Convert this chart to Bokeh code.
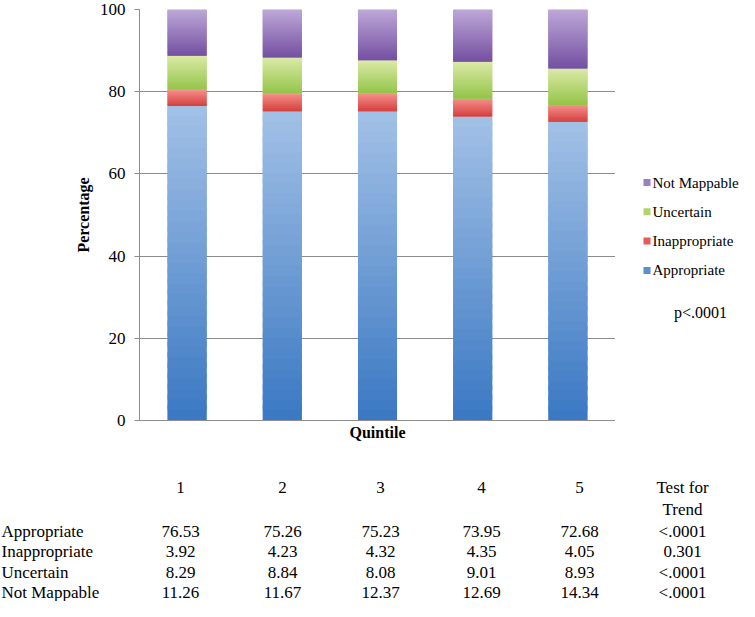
from bokeh.plotting import figure
from bokeh.models import Range1d, FixedTicker, ColumnDataSource
from bokeh.layouts import column, row
from bokeh.embed import file_html
from bokeh.resources import INLINE
from bokeh.core.properties import value

# ---------------- data ----------------
quintiles = ["1", "2", "3", "4", "5"]
series_names = ["Appropriate", "Inappropriate", "Uncertain", "Not Mappable"]
appropriate = [76.53, 75.26, 75.23, 73.95, 72.68]
inappropriate = [3.92, 4.23, 4.32, 4.35, 4.05]
uncertain = [8.29, 8.84, 8.08, 9.01, 8.93]
not_mappable = [11.26, 11.67, 12.37, 12.69, 14.34]
trend_p = ["<.0001", "0.301", "<.0001", "<.0001"]
p_overall = "p<.0001"
y_ticks = [0, 20, 40, 60, 80, 100]
trend_header = ["Test for", "Trend"]

series_values = [appropriate, inappropriate, uncertain, not_mappable]
# (bottom colour, top colour, legend colour)
series_colors = [
    ("#3a78c3", "#a3c1e6", "#5b8ed0"),
    ("#d33d39", "#f6938f", "#e45b59"),
    ("#92c447", "#dceaa8", "#b4d36c"),
    ("#7450a1", "#bda8d8", "#9a7fc5"),
]

FONT = "Liberation Serif"
GRAY = "#8c8c8c"

# layout geometry (pixels)
FRAME_L, FRAME_R, FRAME_T, FRAME_B = 139, 615, 9, 420
CHART_H = 446
TOTAL_W, TOTAL_H = 739, 601


def hex2rgb(h):
    h = h.lstrip("#")
    return tuple(int(h[i:i + 2], 16) for i in (0, 2, 4))


def mix(c1, c2, t):
    a, b = hex2rgb(c1), hex2rgb(c2)
    return "#%02x%02x%02x" % tuple(int(round(a[k] + (b[k] - a[k]) * t)) for k in range(3))


# ---------------- chart ----------------
xpos = [i + 1 for i in range(len(quintiles))]
chart = figure(x_range=Range1d(0.5, len(quintiles) + 0.5), y_range=Range1d(0, 100),
               width=FRAME_R, height=CHART_H, output_backend="svg", toolbar_location=None,
               min_border_left=FRAME_L, min_border_right=0, min_border_top=FRAME_T,
               min_border_bottom=CHART_H - FRAME_B)
chart.outline_line_color = None
chart.background_fill_color = "white"

BAR_W = 0.41
N = 30
bottoms = [0.0] * len(quintiles)
for vals, (c_bot, c_top, c_mid) in zip(series_values, series_colors):
    tops = [b + v for b, v in zip(bottoms, vals)]
    chart.vbar(x=xpos, bottom=bottoms, top=tops, width=BAR_W,
               fill_color=mix(c_bot, c_top, 0.5), line_color=None)
    xs, bs, ts, cs = [], [], [], []
    for q, b, v in zip(xpos, bottoms, vals):
        for i in range(N):
            xs.append(q)
            bs.append(b + v * i / N)
            ts.append(b + v * min(i + 1.5, N) / N)
            cs.append(mix(c_bot, c_top, (i + 0.5) / N))
    src = ColumnDataSource(dict(x=xs, bottom=bs, top=ts, color=cs))
    chart.vbar(x="x", bottom="bottom", top="top", width=BAR_W, fill_color="color",
               line_color=None, source=src)
    bottoms = tops

chart.xgrid.grid_line_color = None
chart.ygrid.grid_line_color = GRAY
chart.ygrid.grid_line_width = 1

yax = chart.yaxis[0]
yax.ticker = FixedTicker(ticks=y_ticks)
yax.major_tick_out = 5
yax.major_tick_in = 0
yax.minor_tick_line_color = None
yax.major_tick_line_color = GRAY
yax.axis_line_color = GRAY
yax.major_label_text_font = FONT
yax.major_label_text_font_size = "17px"
yax.major_label_text_color = "black"
yax.major_label_standoff = 9
yax.axis_label = "Percentage"
yax.axis_label_text_font = FONT
yax.axis_label_text_font_size = "16px"
yax.axis_label_text_font_style = "bold"
yax.axis_label_text_color = "black"
yax.axis_label_standoff = 5

xax = chart.xaxis[0]
xax.ticker = FixedTicker(ticks=[])
xax.minor_tick_line_color = None
xax.major_tick_line_color = None
xax.major_tick_out = 0
xax.major_label_standoff = 0
xax.axis_line_color = GRAY
xax.axis_label = "Quintile"
xax.axis_label_text_font = FONT
xax.axis_label_text_font_size = "16px"
xax.axis_label_text_font_style = "bold"
xax.axis_label_text_color = "black"
xax.axis_label_standoff = 3

# ---------------- legend side panel (data units = page pixels) ----------------
SIDE_W = TOTAL_W - FRAME_R
side = figure(width=SIDE_W, height=CHART_H, x_range=Range1d(FRAME_R, TOTAL_W),
              y_range=Range1d(FRAME_B, FRAME_T),
              output_backend="svg", toolbar_location=None,
              min_border_left=0, min_border_right=0,
              min_border_top=FRAME_T, min_border_bottom=CHART_H - FRAME_B)
side.axis.visible = False
side.grid.visible = False
side.outline_line_color = None

leg_names = series_names[::-1]
leg_colors = [c[2] for c in series_colors][::-1]
leg_y = [182 + 29.3 * i for i in range(len(leg_names))]
side.rect(x=[646.5] * len(leg_names), y=leg_y, width=7, height=7,
          fill_color=leg_colors, line_color=None)
side.text(x=[652] * len(leg_names), y=leg_y, text=leg_names,
          text_font=value(FONT), text_font_size="15px", text_color="black",
          text_baseline="middle", text_align="left")
side.text(x=[700], y=[312], text=[p_overall], text_font=value(FONT),
          text_font_size="16px", text_color="black",
          text_baseline="middle", text_align="center")

# ---------------- table (data units = page pixels) ----------------
TABLE_H = TOTAL_H - CHART_H
table = figure(width=TOTAL_W, height=TABLE_H, x_range=Range1d(0, TOTAL_W),
               y_range=Range1d(TOTAL_H, CHART_H),
               output_backend="svg", toolbar_location=None,
               min_border=0, min_border_left=0, min_border_right=0,
               min_border_top=0, min_border_bottom=0)
table.axis.visible = False
table.grid.visible = False
table.outline_line_color = None

col_x = [180, 282, 380, 481, 579]
trend_x = 682
head_y = [487, 509]
row_y = [530.5, 551, 571.5, 592]

tx, ty, tt, ta = [], [], [], []
for q, cx in zip(quintiles, col_x):
    tx.append(cx); ty.append(head_y[0]); tt.append(q); ta.append("center")
for h, hy in zip(trend_header, head_y):
    tx.append(trend_x); ty.append(hy); tt.append(h); ta.append("center")
for name, vals, pv, ry in zip(series_names, series_values, trend_p, row_y):
    tx.append(1); ty.append(ry); tt.append(name); ta.append("left")
    for v, cx in zip(vals, col_x):
        tx.append(cx); ty.append(ry); tt.append(f"{v:.2f}"); ta.append("center")
    tx.append(trend_x); ty.append(ry); tt.append(pv); ta.append("center")

tsrc = ColumnDataSource(dict(x=tx, y=ty, text=tt, align=ta))
table.text(x="x", y="y", text="text", text_align="align", source=tsrc,
           text_font=value(FONT), text_font_size="17px", text_color="black",
           text_baseline="middle")

layout = column(row(chart, side, spacing=0), table, spacing=0)
open("out.html", "w").write(file_html(layout, INLINE))
